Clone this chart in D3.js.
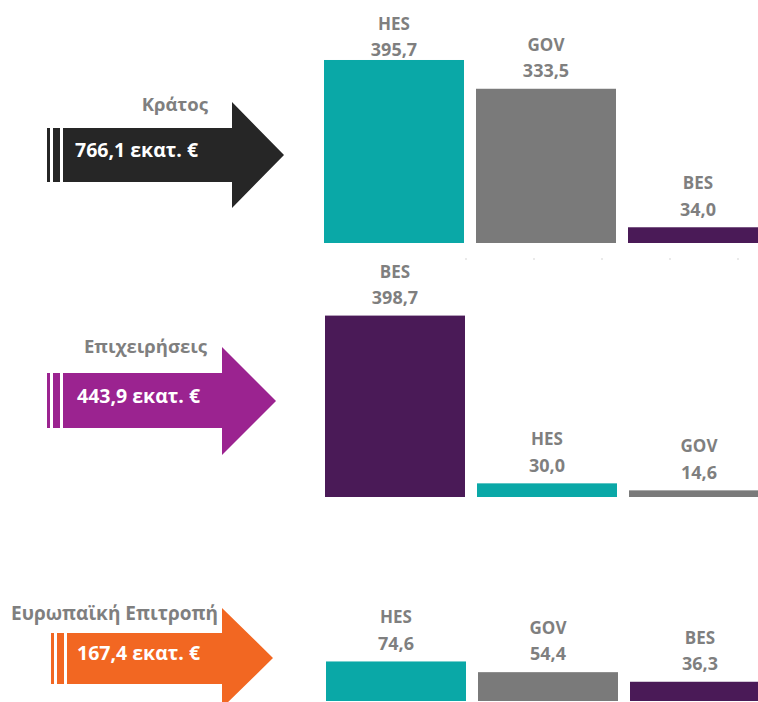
<!DOCTYPE html>
<html><head><meta charset="utf-8">
<script src="https://cdn.jsdelivr.net/npm/d3@7"></script>
<style>html,body{margin:0;padding:0;background:#fff;}svg{display:block;}</style>
</head><body>
<svg id="c" width="758" height="702"></svg>
<script>
// ---- data ----
const sources = ["Κράτος", "Επιχειρήσεις", "Ευρωπαϊκή Επιτροπή"];
const totals = ["766,1", "443,9", "167,4"];
const unit = "εκατ. €";
const sectors1 = ["HES", "GOV", "BES"];
const values1 = [395.7, 333.5, 34.0];
const sectors2 = ["BES", "HES", "GOV"];
const values2 = [398.7, 30.0, 14.6];
const sectors3 = ["HES", "GOV", "BES"];
const values3 = [74.6, 54.4, 36.3];

// ---- styling / layout ----
const sectorColor = {HES: "#0aa8a7", GOV: "#7a7a7a", BES: "#4a1a57"};
const arrowColors = ["#262626", "#9b2390", "#f26722"];
const textGrey = "#7f7f7f";
const layout = [
  {ax:47, bTop:128, bBot:182, hx:232, hTop:102, hBot:208, tip:284, lx:208, ly:105, vx:75, vy:150, bx:324, base:243, k:0.4625, bg:false},
  {ax:47, bTop:373, bBot:428, hx:222, hTop:347, hBot:455, tip:276, lx:207, ly:347, vx:77, vy:396, bx:325, base:497, k:0.455, bg:false},
  {ax:51, bTop:633, bBot:684, hx:222, hTop:608, hBot:708, tip:273, lx:218, ly:613, vx:77, vy:653, bx:326, base:701, k:0.53, bg:true}
];
const panels = [
  {sectors: sectors1, values: values1},
  {sectors: sectors2, values: values2},
  {sectors: sectors3, values: values3}
];
const font = "'Open Sans', 'Noto Sans', sans-serif";
const svg = d3.select("#c");

panels.forEach((p, i) => {
  const L = layout[i];
  const g = svg.append("g");
  const col = arrowColors[i];
  // arrow stripes
  g.append("rect").attr("x", L.ax).attr("y", L.bTop).attr("width", 3).attr("height", L.bBot - L.bTop).attr("fill", col);
  g.append("rect").attr("x", L.ax + 6).attr("y", L.bTop).attr("width", 7).attr("height", L.bBot - L.bTop).attr("fill", col);
  const tipY = (L.hTop + L.hBot) / 2;
  const pts = [[L.ax + 16, L.bTop], [L.hx, L.bTop], [L.hx, L.hTop], [L.tip, tipY], [L.hx, L.hBot], [L.hx, L.bBot], [L.ax + 16, L.bBot]];
  g.append("path").attr("d", d3.line()(pts) + "Z").attr("fill", col);
  // category label
  const lab = g.append("text").attr("x", L.lx).attr("y", L.ly).attr("dy", "0.35em")
    .attr("text-anchor", "end").attr("font-family", font).attr("font-weight", 700)
    .attr("font-size", i === 2 ? 19 : 18.5).attr("fill", textGrey).text(sources[i]);
  if (L.bg) {
    const bb = lab.node().getBBox();
    g.insert("rect", "text").attr("x", bb.x - 2).attr("y", bb.y - 2).attr("width", bb.width + 4).attr("height", bb.height + 4).attr("fill", "#fff");
  }
  g.append("text").attr("x", L.vx).attr("y", L.vy).attr("dy", "0.35em")
    .attr("font-family", font).attr("font-weight", 700).attr("font-size", 19.5)
    .attr("fill", "#fff").text(totals[i] + " " + unit);

  // bars
  const x = d3.scaleBand().domain(d3.range(p.values.length))
    .range([L.bx, L.bx + 444]).paddingInner(0.079).paddingOuter(0);
  const y = d3.scaleLinear().domain([0, 400]).range([L.base, L.base - 400 * L.k]);
  p.values.forEach((v, j) => {
    const top = y(v);
    g.append("rect").attr("x", x(j)).attr("y", top).attr("width", x.bandwidth())
      .attr("height", L.base - top).attr("fill", sectorColor[p.sectors[j]]);
    const vy = Math.max(top - 18, 50);
    const cx = x(j) + x.bandwidth() / 2;
    g.append("text").attr("x", cx).attr("y", vy).attr("dy", "0.35em").attr("text-anchor", "middle")
      .attr("font-family", font).attr("font-weight", 700).attr("font-size", 18)
      .attr("fill", textGrey).text(d3.format(".1f")(v).replace(".", ","));
    g.append("text").attr("x", cx).attr("y", vy - 26).attr("dy", "0.35em").attr("text-anchor", "middle")
      .attr("font-family", font).attr("font-weight", 700).attr("font-size", 17)
      .attr("fill", textGrey).text(p.sectors[j]);
  });
  if (i === 0) {
    const dx = d3.scaleLinear().domain([0, 4]).range([466, 738]);
    g.selectAll("circle.dot").data(d3.range(5)).enter().append("circle")
      .attr("cx", d => dx(d)).attr("cy", 259).attr("r", 0.8).attr("fill", "#cfcfcf");
  }
});
</script>
</body></html>
